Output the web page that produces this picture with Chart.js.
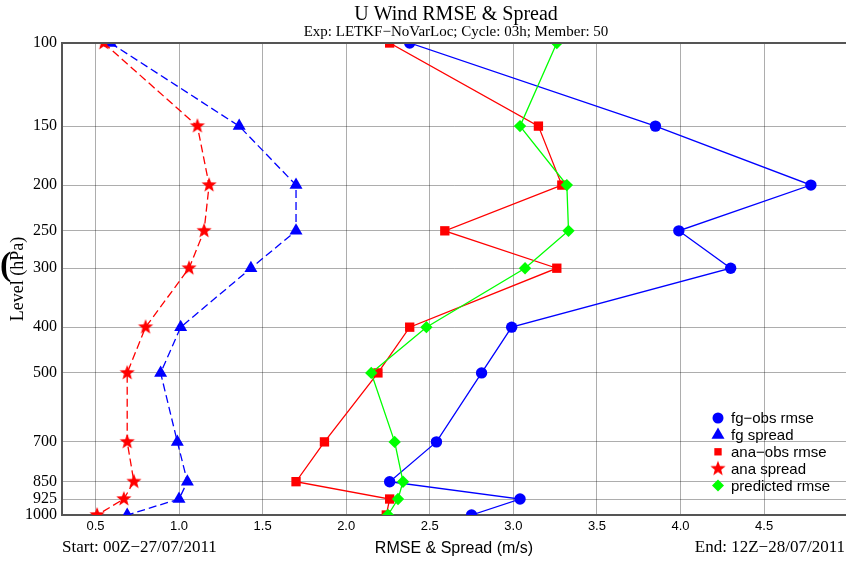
<!DOCTYPE html>
<html>
<head>
<meta charset="utf-8">
<script src="https://cdn.jsdelivr.net/npm/chart.js@4/dist/chart.umd.min.js"></script>
<style>
body { margin: 0; background: #fff; }
</style>
</head>
<body>
<canvas id="chart" width="846" height="561"></canvas>
<script>
// pressure levels (hPa) and the profiles at each level
var levels = [100, 150, 200, 250, 300, 400, 500, 700, 850, 925, 1000];
var fgObsRmse = [2.38, 3.85, 4.78, 3.99, 4.30, 2.99, 2.81, 2.54, 2.26, 3.04, 2.75];
var fgSpread = [0.59, 1.36, 1.70, 1.70, 1.43, 1.01, 0.89, 0.99, 1.05, 1.00, 0.69];
var anaObsRmse = [2.26, 3.15, 3.29, 2.59, 3.26, 2.38, 2.19, 1.87, 1.70, 2.26, 2.24];
var anaSpread = [0.55, 1.11, 1.18, 1.15, 1.06, 0.80, 0.69, 0.69, 0.73, 0.67, 0.51];
var predictedRmse = [3.26, 3.04, 3.32, 3.33, 3.07, 2.48, 2.15, 2.29, 2.34, 2.31, 2.25];
var xTicks = [0.5, 1.0, 1.5, 2.0, 2.5, 3.0, 3.5, 4.0, 4.5];

var SERIF = '"Liberation Serif", "Times New Roman", serif';
var SANS = '"Liberation Sans", Arial, sans-serif';

// filled five-pointed star, used as a point style image
function starImage(r, color) {
	var c = document.createElement("canvas");
	var s = Math.ceil(r * 2 + 2);
	c.width = s;
	c.height = s;
	var g = c.getContext("2d");
	g.fillStyle = color;
	g.beginPath();
	for (var i = 0; i < 10; i++) {
		var rr = (i % 2) ? r * 0.42 : r;
		var a = -Math.PI / 2 + i * Math.PI / 5;
		g.lineTo(s / 2 + rr * Math.cos(a), s / 2 + rr * Math.sin(a));
	}
	g.closePath();
	g.fill();
	return c;
}

var redStar = starImage(8, "#ff0000");

function series(label, values, color, style, radius, dashed, order) {
	var data = new Array();
	for (var i = 0; i < levels.length; i++) {
		data.push({ x: values[i], y: levels[i] });
	}
	return {
		label: label,
		data: data,
		showLine: true,
		borderColor: color,
		backgroundColor: color,
		borderWidth: 1.3,
		borderDash: dashed ? [8, 4] : [],
		pointStyle: style,
		pointRadius: radius,
		pointHoverRadius: radius,
		pointBorderWidth: 0,
		order: order
	};
}

var datasets = [
	series("fg\u2212obs rmse", fgObsRmse, "#0000ff", "circle", 5.7, false, 5),
	series("fg spread", fgSpread, "#0000ff", "triangle", 7.5, true, 4),
	series("ana\u2212obs rmse", anaObsRmse, "#ff0000", "rect", 6.6, false, 3),
	series("ana spread", anaSpread, "#ff0000", redStar, 8, true, 2),
	series("predicted rmse", predictedRmse, "#00ff00", "rectRot", 6.2, false, 1)
];

// legend sizes differ a little from the plotted markers
var legendStyles = [
	{ style: "circle", radius: 5.5 },
	{ style: "triangle", radius: 7.5 },
	{ style: "rect", radius: 5.2 },
	{ style: redStar, radius: 8 },
	{ style: "rectRot", radius: 6 }
];

var decorations = {
	id: "decorations",
	afterDraw: function(chart) {
		var ctx = chart.ctx;
		var area = chart.chartArea;
		ctx.save();

		// top frame line
		ctx.strokeStyle = "#555555";
		ctx.lineWidth = 2;
		ctx.beginPath();
		ctx.moveTo(area.left - 1, area.top);
		ctx.lineTo(area.right, area.top);
		ctx.stroke();

		// headings
		ctx.fillStyle = "#000";
		ctx.textAlign = "center";
		ctx.textBaseline = "alphabetic";
		ctx.font = "20px " + SERIF;
		ctx.fillText("U Wind RMSE & Spread", 456, 20);
		ctx.font = "15px " + SERIF;
		ctx.fillText("Exp: LETKF\u2212NoVarLoc; Cycle: 03h; Member: 50", 456, 36);

		// period of the statistics
		ctx.font = "17px " + SERIF;
		ctx.textAlign = "left";
		ctx.fillText("Start: 00Z\u221227/07/2011", 62, 552);
		ctx.textAlign = "right";
		ctx.fillText("End: 12Z\u221228/07/2011", 845, 552);

		ctx.font = "bold 34px " + SERIF;
		ctx.textAlign = "left";
		ctx.textBaseline = "middle";
		ctx.fillText("(", 0, 266);

		// legend inside the plot
		ctx.font = "15px " + SANS;
		ctx.textAlign = "left";
		ctx.textBaseline = "middle";
		var mx = area.right - 128;
		var y0 = area.bottom - 97;
		for (var i = 0; i < datasets.length; i++) {
			var y = y0 + i * 16.9;
			var ds = datasets[i];
			ctx.fillStyle = ds.backgroundColor;
			Chart.helpers.drawPoint(ctx, {
				pointStyle: legendStyles[i].style,
				radius: legendStyles[i].radius,
				rotation: 0,
				borderWidth: 0
			}, mx, y);
			ctx.fillStyle = "#000";
			ctx.fillText(ds.label, mx + 13, y + 1);
		}
		ctx.restore();
	}
};

new Chart(document.getElementById("chart"), {
	type: "scatter",
	data: { datasets: datasets },
	options: {
		responsive: false,
		animation: false,
		events: [],
		layout: { autoPadding: false, padding: { top: 43, left: 0, right: 0, bottom: 0 } },
		plugins: {
			legend: { display: false },
			tooltip: { enabled: false },
			title: { display: false }
		},
		scales: {
			x: {
				type: "linear",
				min: 0.3,
				max: 4.99,
				afterBuildTicks: function(scale) {
					scale.ticks = xTicks.map(function(v) { return { value: v }; });
				},
				afterFit: function(scale) {
					scale.height = 46;
					scale.paddingLeft = 0;
					scale.paddingRight = 0;
				},
				ticks: {
					autoSkip: false,
					maxRotation: 0,
					padding: 4,
					color: "#000",
					font: { family: SANS, size: 13 },
					callback: function(v) { return v.toFixed(1); }
				},
				grid: { color: "rgba(0,0,0,0.32)", lineWidth: 1, drawTicks: false },
				border: { color: "#555555", width: 2 },
				title: {
					display: true,
					text: "RMSE & Spread (m/s)",
					color: "#000",
					font: { family: SANS, size: 16 },
					padding: { top: 0, bottom: 3 }
				}
			},
			y: {
				type: "logarithmic",
				reverse: true,
				min: 100,
				max: 1000,
				afterBuildTicks: function(scale) {
					scale.ticks = levels.map(function(v) { return { value: v }; });
				},
				afterFit: function(scale) {
					scale.width = 62;
					scale.paddingTop = 0;
					scale.paddingBottom = 0;
				},
				ticks: {
					autoSkip: false,
					padding: 5,
					color: "#000",
					font: { family: SERIF, size: 16 },
					callback: function(v) { return String(v); }
				},
				grid: { color: "rgba(0,0,0,0.32)", lineWidth: 1, drawTicks: false },
				border: { color: "#555555", width: 2 },
				title: {
					display: true,
					text: "Level (hPa)",
					color: "#000",
					font: { family: SERIF, size: 18 },
					padding: { top: 7, bottom: 0 }
				}
			}
		}
	},
	plugins: [decorations]
});
</script>
</body>
</html>
